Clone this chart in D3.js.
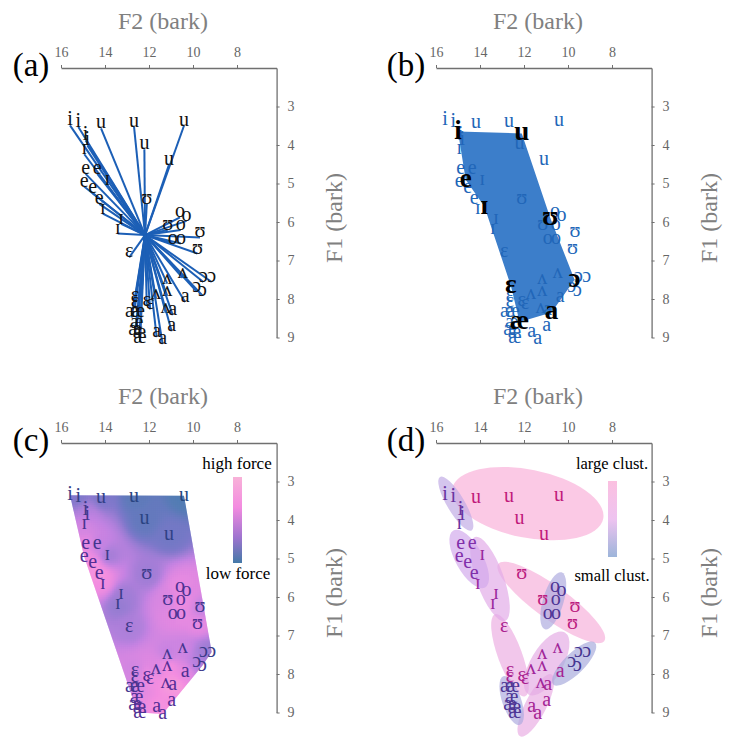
<!DOCTYPE html>
<html><head><meta charset="utf-8">
<script src="https://cdn.jsdelivr.net/npm/d3@7"></script>
</head><body style="margin:0;background:#fff">
<svg id="chart" width="731" height="746" font-family="Liberation Serif"></svg>
<script>
// ---------------- DATA ----------------
const f2Ticks = [16, 14, 12, 10, 8];
const f1Ticks = [3, 4, 5, 6, 7, 8, 9];
const panelLabels = ["(a)", "(b)", "(c)", "(d)"];

// vowel tokens (label, cluster, F2 bark, F1 bark, force for panel c)
const tokenLabel = ["i","i","i","i","ɪ", "e","e","e","e","e", "ɪ","ɪ","ɪ","ɪ",
  "ɛ","ɛ","ɛ","ɛ","ɛ", "æ","æ","æ","æ","æ","æ", "u","u","u","u","u",
  "ʊ","ʊ","ʊ","ʊ", "o","o","o","o","o", "ʌ","ʌ","ʌ","ʌ","ʌ", "ɔ","ɔ","ɔ","ɔ", "a","a","a","a","a"];
const tokenCluster = ["i","i","i","i","i", "e","e","e","e","e", "ɪ","ɪ","ɪ","ɪ",
  "ɛ","ɛ","ɛ","ɛ","ɛ", "æ","æ","æ","æ","æ","æ", "u","u","u","u","u",
  "ʊ","ʊ","ʊ","ʊ", "o","o","o","o","o", "ʌ","ʌ","ʌ","ʌ","ʌ", "ɔ","ɔ","ɔ","ɔ", "a","a","a","a","a"];
const tokenF2 = [15.59,15.21,14.88,14.80,14.94, 14.88,14.35,14.95,14.56,14.26, 13.90,14.10,13.27,13.42,
  12.90,12.64,12.64,12.10,11.95, 12.79,12.49,12.56,12.64,12.44,12.41, 14.18,12.68,10.41,12.21,11.09,
  12.10,11.15,9.68,9.80, 10.59,10.29,10.56,10.92,10.55, 10.47,11.17,11.17,11.68,11.24, 9.53,9.15,9.83,9.57,
  10.36,10.92,10.97,11.65,11.38];
const tokenF1 = [3.36,3.40,3.75,3.88,4.11, 4.62,4.62,4.95,5.12,5.40, 4.92,5.65,5.92,6.17,
  6.79,7.92,8.09,8.05,8.14, 8.35,8.35,8.62,8.80,8.88,9.00, 3.44,3.40,3.37,3.98,4.38,
  5.40,6.08,6.27,6.69, 5.75,5.84,6.08,6.43,6.43, 7.32,7.47,7.79,7.86,8.23, 7.43,7.43,7.68,7.78,
  7.95,8.29,8.71,8.86,9.04];
const tokenForce = [0.35,0.3,0.5,0.6,0.7, 0.8,0.6,0.85,0.9,0.9, 0.45,0.85,0.45,0.4,
  0.5,0.65,0.7,0.85,0.85, 0.6,0.75,0.8,0.75,0.85,0.8, 0.3,0.12,0.05,0.15,0.25,
  0.45,0.7,0.6,0.8, 0.8,0.75,0.85,0.75,0.8, 0.65,0.6,0.9,0.7,0.9, 0.45,0.4,0.55,0.5,
  0.8,0.95,0.85,0.9,0.85];

// centre of the force lines in panel (a)
const hubF2 = 12.18, hubF1 = 6.34;

// category means (panel b), in polygon order
const meanLabel = ["i","u","ʊ","ɔ","a","æ","ɛ","ɪ","e"];
const meanF2 = [15.0, 12.1, 10.8, 9.7, 10.75, 12.2, 12.6, 13.8, 14.65];
const meanF1 = [3.65, 3.7, 5.9, 7.5, 8.35, 8.6, 7.65, 5.6, 4.9];

// clusters (panel d): major-axis end points in bark, half-width in F2 bark, relative size
const clusterName = ["u","ʊ","ɛ","a","ʌ","ɪ","e","i","æ","o","ɔ"];
const clusterF2a = [15.26,13.17,13.32,10.74,10.14,14.23,15.21,15.82,12.94,10.29,8.77];
const clusterF1a = [3.18, 5.14, 6.45, 8.01, 6.92, 4.44, 4.27, 2.88, 8.06, 5.36, 7.19];
const clusterF2b = [8.40, 8.35, 11.95,12.18,11.80,12.86,13.77,14.38,12.18,11.05,10.67];
const clusterF1b = [3.97, 7.14, 8.58, 9.62, 8.53, 6.62, 5.75, 4.27, 9.32, 6.84, 8.27];
const clusterHalfW = [1.55, 0.75, 0.55, 0.48, 0.72, 0.62, 0.62, 0.4, 0.43, 0.47, 0.47];
const clusterSize = [1.0, 0.95, 0.8, 0.75, 0.7, 0.65, 0.45, 0.3, 0.15, 0.15, 0.1];

// ---------------- SETUP ----------------
const FONT = "Liberation Serif";
const svg = d3.select("#chart");
const X = d3.scaleLinear().domain([16, 6.2]).range([61, 276.6]);
const Y = d3.scaleLinear().domain([2, 9]).range([68, 337.5]);
const offsets = [[0,0],[375,0],[0,375],[375,375]];

const tokens = tokenLabel.map((l, i) => ({
  label: l, cluster: tokenCluster[i], f2: tokenF2[i], f1: tokenF1[i], force: tokenForce[i],
  x: X(tokenF2[i]), y: Y(tokenF1[i])
}));
const sizeOf = {};
clusterName.forEach((c, i) => sizeOf[c] = clusterSize[i]);

const defs = svg.append("defs");

function txt(sel, size) {
  return sel.attr("font-family", FONT).attr("font-size", size);
}

function drawAxes(g, idx) {
  const top = g.append("g").attr("transform", `translate(0,${Y(2)})`)
    .call(d3.axisTop(X).tickValues(f2Ticks).tickFormat(d3.format("d")).tickSize(3).tickSizeOuter(0).tickPadding(8));
  const right = g.append("g").attr("transform", `translate(${X(6.2)},0)`)
    .call(d3.axisRight(Y).tickValues(f1Ticks).tickFormat(d3.format("d")).tickSize(3).tickSizeOuter(0).tickPadding(8));
  [top, right].forEach(a => {
    a.attr("font-family", FONT).attr("font-size", 14);
    a.select(".domain").attr("stroke", "#707070").attr("stroke-width", 1.3);
    a.selectAll(".tick line").attr("stroke", "#707070");
    txt(a.selectAll(".tick text").attr("fill", "#666"), 14);
  });
  txt(g.append("text").attr("x", 163).attr("y", 29).attr("text-anchor", "middle"), 24)
    .attr("fill", "#808080").text("F2 (bark)");
  txt(g.append("text").attr("transform", "translate(342,218) rotate(-90)").attr("text-anchor", "middle"), 24)
    .attr("fill", "#808080").text("F1 (bark)");
  txt(g.append("text").attr("x", 31).attr("y", 76).attr("text-anchor", "middle"), 33)
    .attr("fill", "#000").text(panelLabels[idx]);
}

function drawLabels(g, colorFn, size) {
  txt(g.append("g").selectAll("text").data(tokens).join("text")
    .attr("x", d => d.x).attr("y", d => d.y + 5).attr("text-anchor", "middle"), size || 20)
    .attr("fill", colorFn).text(d => d.label);
}

const panels = offsets.map(o => svg.append("g").attr("transform", `translate(${o[0]},${o[1]})`));

// ---------- Panel (a) ----------
(function() {
  const g = panels[0];
  drawAxes(g, 0);
  g.append("g").selectAll("line").data(tokens).join("line")
    .attr("x1", X(hubF2)).attr("y1", Y(hubF1))
    .attr("x2", d => d.x).attr("y2", d => d.y + 5)
    .attr("stroke", "#1c5fb6").attr("stroke-width", 2);
  drawLabels(g, () => "#111");
})();

// ---------- Panel (b) ----------
(function() {
  const g = panels[1];
  drawAxes(g, 1);
  const poly = meanF2.map((v, i) => [X(v), Y(meanF1[i])]);
  g.append("polygon").attr("points", poly.map(p => p.join(",")).join(" "))
    .attr("fill", "#3c7eca");
  drawLabels(g, () => "#2166b8");
  txt(g.append("g").selectAll("text").data(meanLabel).join("text")
    .attr("x", (d, i) => X(meanF2[i])).attr("y", (d, i) => Y(meanF1[i]) + 7)
    .attr("text-anchor", "middle"), 27)
    .attr("font-weight", "bold").attr("fill", "#000").text(d => d);
})();

// ---------- Panel (c) ----------
(function() {
  const g = panels[2];
  drawAxes(g, 2);
  const hull = d3.polygonHull(tokens.map(d => [d.x, d.y]));
  defs.append("clipPath").attr("id", "hullc").append("polygon")
    .attr("points", hull.map(p => p.join(",")).join(" "));
  const forceColor = d3.scaleLinear().domain([0, 0.3, 0.6, 0.85, 1])
    .range(["#4a7db0", "#7c78c9", "#c483e2", "#f38de0", "#f8a9d8"]);
  const xs = d3.extent(hull, p => p[0]), ys = d3.extent(hull, p => p[1]);
  const cell = 2;
  const cells = [];
  for (let cx = Math.floor(xs[0]); cx < xs[1]; cx += cell) {
    for (let cy = Math.floor(ys[0]); cy < ys[1]; cy += cell) {
      let sw = 0, sv = 0;
      tokens.forEach(t => {
        const d2 = (t.x - cx) ** 2 + (t.y - cy) ** 2 + 60;
        const w = 1 / (d2 * d2);
        sw += w; sv += w * t.force;
      });
      cells.push({x: cx, y: cy, v: sv / sw});
    }
  }
  g.append("g").attr("clip-path", "url(#hullc)").selectAll("rect").data(cells).join("rect")
    .attr("x", d => d.x - 0.2).attr("y", d => d.y - 0.2).attr("width", cell + 0.4).attr("height", cell + 0.4)
    .attr("fill", d => forceColor(d.v));
  const lab = d3.scaleLinear().domain([0, 1]).range(["#22487e", "#5a2a98"]);
  drawLabels(g, d => lab(d.force));
  const grad = defs.append("linearGradient").attr("id", "gforce").attr("x1", 0).attr("y1", 0).attr("x2", 0).attr("y2", 1);
  [[0, "#f8b2d8"], [0.35, "#f38be0"], [0.7, "#9f74cf"], [1, "#4479a8"]].forEach(s =>
    grad.append("stop").attr("offset", s[0]).attr("stop-color", s[1]));
  g.append("rect").attr("x", 233).attr("y", 102).attr("width", 9).attr("height", 86).attr("fill", "url(#gforce)");
  txt(g.append("text").attr("x", 237).attr("y", 94).attr("text-anchor", "middle"), 17).text("high force");
  txt(g.append("text").attr("x", 238).attr("y", 204).attr("text-anchor", "middle"), 17).text("low force");
})();

// ---------- Panel (d) ----------
(function() {
  const g = panels[3];
  drawAxes(g, 3);
  const fillC = d3.scaleLinear().domain([0, 0.5, 1]).range(["#9aaad8", "#d8a8ee", "#f9b0d8"]);
  const clusters = clusterName.map((n, i) => {
    const ax = X(clusterF2a[i]), ay = Y(clusterF1a[i]), bx = X(clusterF2b[i]), by = Y(clusterF1b[i]);
    return {name: n, cx: (ax + bx) / 2, cy: (ay + by) / 2,
      rx: Math.hypot(bx - ax, by - ay) / 2, ry: Math.abs(X(16) - X(16 - clusterHalfW[i])),
      ang: Math.atan2(by - ay, bx - ax) * 180 / Math.PI, size: clusterSize[i]};
  });
  g.append("g").selectAll("ellipse").data(clusters).join("ellipse")
    .attr("transform", d => `translate(${d.cx},${d.cy}) rotate(${d.ang})`)
    .attr("rx", d => d.rx).attr("ry", d => d.ry)
    .attr("fill", d => fillC(d.size)).attr("fill-opacity", 0.68);
  const lab = d3.scaleLinear().domain([0, 0.5, 1]).range(["#34388a", "#8a2eae", "#c0197a"]);
  drawLabels(g, d => lab(sizeOf[d.cluster]));
  const grad = defs.append("linearGradient").attr("id", "gclust").attr("x1", 0).attr("y1", 0).attr("x2", 0).attr("y2", 1);
  [[0, "#fbc0e0"], [0.5, "#eec3f0"], [1, "#9db5da"]].forEach(s =>
    grad.append("stop").attr("offset", s[0]).attr("stop-color", s[1]));
  g.append("rect").attr("x", 233).attr("y", 106).attr("width", 9).attr("height", 76).attr("fill", "url(#gclust)");
  txt(g.append("text").attr("x", 237).attr("y", 94).attr("text-anchor", "middle"), 16.5).text("large clust.");
  txt(g.append("text").attr("x", 237).attr("y", 206).attr("text-anchor", "middle"), 16.5).text("small clust.");
})();
</script>
</body></html>
